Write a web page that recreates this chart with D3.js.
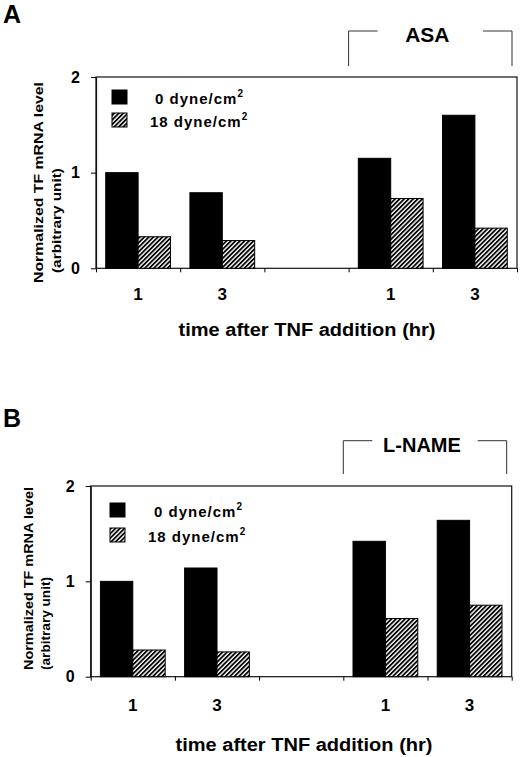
<!DOCTYPE html>
<html>
<head>
<meta charset="utf-8">
<script src="https://cdn.jsdelivr.net/npm/d3@7"></script>
<style>
  body { margin: 0; background: #fff; }
  svg { font-family: "Liberation Sans", Arial, sans-serif; font-weight: bold; }
</style>
</head>
<body>
<div id="chart"></div>
<script>
// values
const timeLabels = ["1", "3", "", "1", "3"];
const stillA = [1.0, 0.79, null, 1.15, 1.60];   // 0 dyne/cm2
const shearA = [0.33, 0.29, null, 0.73, 0.42];  // 18 dyne/cm2
const stillB = [1.0, 1.14, null, 1.42, 1.64];
const shearB = [0.28, 0.26, null, 0.61, 0.75];
const legendLabels = ["0 dyne/cm", "18 dyne/cm"];
const yTicks = [0, 1, 2];
const xTitle = "time after TNF addition (hr)";
const yTitle = ["Normalized TF mRNA level", "(arbitrary unit)"];

const svg = d3.select("#chart")
  .append("svg")
    .attr("width", 520)
    .attr("height", 757);

// diagonal hatch for the sheared bars
svg.append("defs").append("pattern")
    .attr("id", "hatch")
    .attr("patternUnits", "userSpaceOnUse")
    .attr("width", 3.2)
    .attr("height", 3.2)
    .attr("patternTransform", "rotate(45)")
  .call(p => {
    p.append("rect").attr("width", 3.2).attr("height", 3.2).attr("fill", "#fff");
    p.append("rect").attr("width", 1.8).attr("height", 3.2).attr("fill", "#000");
  });

function drawPanel(p) {
  const g = svg.append("g");

  const x = d3.scaleBand().domain(d3.range(timeLabels.length)).range([p.left, p.right]);
  const edge = d3.scaleLinear().domain([0, timeLabels.length]).range([p.left, p.right]);
  const y = d3.scaleLinear().domain([0, 2]).range([p.bottom, p.top]);
  const inner = d3.scaleBand().domain(["still", "shear"]).range([0, x.bandwidth()]).paddingOuter(0.3);

  // frame
  g.append("rect")
    .attr("x", p.left).attr("y", p.top)
    .attr("width", p.right - p.left).attr("height", p.bottom - p.top)
    .attr("fill", "none").attr("stroke", "#111").attr("stroke-width", 1.2);

  // bars
  const series = [
    {key: "still", values: p.still, fill: "#000"},
    {key: "shear", values: p.shear, fill: "url(#hatch)"}
  ];
  series.forEach(s => {
    g.append("g").selectAll("rect")
      .data(s.values.map((v, i) => ({i, v})).filter(d => d.v != null))
      .join("rect")
        .attr("x", d => x(d.i) + inner(s.key))
        .attr("y", d => y(d.v))
        .attr("width", inner.bandwidth())
        .attr("height", d => y(0) - y(d.v))
        .attr("fill", s.fill)
        .attr("stroke", "#000")
        .attr("stroke-width", 1);
  });

  // y axis
  const ya = g.append("g")
    .attr("transform", `translate(${p.left},0)`)
    .call(d3.axisLeft(y).tickValues(yTicks).tickFormat(d3.format("d")).tickSize(5).tickPadding(11).tickSizeOuter(0));
  ya.select(".domain").attr("stroke", "#111").attr("stroke-width", 1.2);
  ya.selectAll("text").attr("font-size", 16).attr("font-family", null).attr("fill", "#000");

  // boundary ticks on the x axis
  const xe = g.append("g")
    .attr("transform", `translate(0,${p.bottom})`)
    .call(d3.axisBottom(edge).tickValues(d3.range(timeLabels.length + 1)).tickFormat("").tickSize(4).tickSizeOuter(0));
  xe.select(".domain").remove();

  // x tick labels at band centres
  const xl = g.append("g")
    .attr("transform", `translate(0,${p.bottom})`)
    .call(d3.axisBottom(x).tickFormat(i => timeLabels[i]).tickSize(0).tickPadding(p.labelPad));
  xl.select(".domain").remove();
  xl.selectAll("text").attr("font-size", 17).attr("font-family", null).attr("fill", "#000");

  // x title
  g.append("text")
    .attr("x", p.titleX).attr("y", p.titleY)
    .attr("text-anchor", "middle")
    .attr("font-size", 18)
    .attr("textLength", 257).attr("lengthAdjust", "spacingAndGlyphs")
    .text(xTitle);

  // y title, two rotated lines
  p.yLines.forEach((l, k) => {
    g.append("text")
      .attr("transform", `translate(${l.x},${l.y}) rotate(-90)`)
      .attr("font-size", 12)
      .attr("textLength", l.len).attr("lengthAdjust", "spacingAndGlyphs")
      .text(yTitle[k]);
  });

  // legend
  legendLabels.forEach((lab, k) => {
    const ly = p.legendY[k];
    g.append("rect")
      .attr("x", p.legendX).attr("y", ly - 14)
      .attr("width", 15).attr("height", 14)
      .attr("fill", series[k].fill).attr("stroke", "#000");
    const t = g.append("text")
      .attr("x", p.legendTextX[k]).attr("y", ly)
      .attr("font-size", 15).attr("letter-spacing", 1)
      .text(lab);
    t.append("tspan")
      .attr("dy", -7)
      .attr("font-size", 10).attr("letter-spacing", 0)
      .text("2");
  });

  // treatment bracket
  const bl = edge(3), br = p.right - 5;
  const mid = (bl + br) / 2 - 3;
  g.append("path")
    .attr("d", `M${bl},${p.brBottom}V${p.brTop}H${bl + 29}M${br - 29},${p.brTop}H${br}V${p.brBottom}`)
    .attr("fill", "none").attr("stroke", "#333").attr("stroke-width", 1);
  g.append("text")
    .attr("x", mid).attr("y", p.brTop + 11)
    .attr("text-anchor", "middle")
    .attr("font-size", p.treatSize)
    .text(p.treatment);

  // panel letter
  g.append("text")
    .attr("x", 3).attr("y", p.letterY)
    .attr("font-size", 25)
    .text(p.letter);
}

drawPanel({
  letter: "A", letterY: 23, treatment: "ASA", treatSize: 21,
  still: stillA, shear: shearA,
  left: 96, right: 517, top: 77, bottom: 268.3,
  labelPad: 20, titleX: 307, titleY: 336,
  yLines: [{x: 42.5, y: 283, len: 201}, {x: 60.5, y: 273, len: 105}],
  legendX: 112, legendY: [104, 127], legendTextX: [155, 150],
  brTop: 31, brBottom: 66
});

drawPanel({
  letter: "B", letterY: 427, treatment: "L-NAME", treatSize: 20,
  still: stillB, shear: shearB,
  left: 90.7, right: 511.7, top: 486, bottom: 676.7,
  labelPad: 22, titleX: 304, titleY: 751,
  yLines: [{x: 32.5, y: 670, len: 183}, {x: 50, y: 670, len: 93}],
  legendX: 110, legendY: [517, 542], legendTextX: [154, 148],
  brTop: 440.7, brBottom: 474
});
</script>
</body>
</html>
